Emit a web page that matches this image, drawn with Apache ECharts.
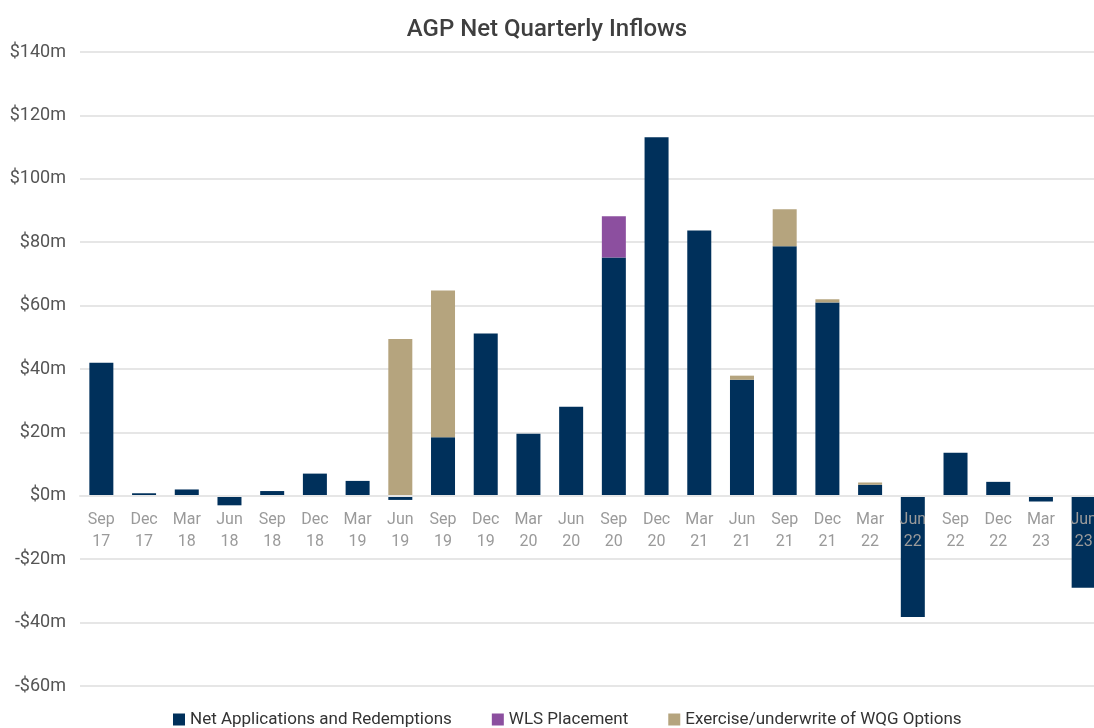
<!DOCTYPE html>
<html>
<head>
<meta charset="utf-8">
<script src="https://cdn.jsdelivr.net/npm/echarts@6/dist/echarts.min.js"></script>
<style>
    html, body { margin: 0; padding: 0; background: #fff; }
    #chart { width: 1094px; height: 728px; }
</style>
</head>
<body>
<div id="chart"></div>
<script>
// quarters, shown as two-line labels
const quarters = ['Sep\n17', 'Dec\n17', 'Mar\n18', 'Jun\n18', 'Sep\n18', 'Dec\n18', 'Mar\n19', 'Jun\n19',
    'Sep\n19', 'Dec\n19', 'Mar\n20', 'Jun\n20', 'Sep\n20', 'Dec\n20', 'Mar\n21', 'Jun\n21',
    'Sep\n21', 'Dec\n21', 'Mar\n22', 'Jun\n22', 'Sep\n22', 'Dec\n22', 'Mar\n23', 'Jun\n23'];

// $m, null = no contribution that quarter
const netAppsRedemptions = [42, 0.8, 2, -3, 1.5, 7, 4.7, -1.3,
    18.5, 51.2, 19.6, 28.1, 75.2, 113.1, 83.7, 36.6,
    78.7, 61, 3.5, -38.2, 13.6, 4.4, -1.8, -29];
const wlsPlacement = [null, null, null, null, null, null, null, null,
    null, null, null, null, 13, null, null, null,
    null, null, null, null, null, null, null, null];
const wqgOptions = [null, null, null, null, null, null, null, 49.5,
    46.3, null, null, null, null, null, null, 1.3,
    11.7, 1, 0.7, null, null, null, null, null];

const yMin = -60, yMax = 140;
const gridTop = 52, gridBottom = 42, chartHeight = 728;

const chart = echarts.init(document.getElementById('chart'));

function money(v) {
    return v < 0 ? '-$' + (-v) + 'm' : '$' + v + 'm';
}

function barSeries(name, data, color) {
    return {
        name: name,
        type: 'bar',
        stack: 'total',
        barWidth: 24,
        data: data,
        itemStyle: {color: color}
    };
}

// onZero doesn't take here, so lift the category axis up to the zero line by hand
let plotH = chartHeight - gridTop - gridBottom;
let zeroLift = plotH * (0 - yMin) / (yMax - yMin);

chart.setOption({
    backgroundColor: '#fff',
    textStyle: {fontFamily: 'Roboto'},
    title: {
        text: 'AGP Net Quarterly Inflows',
        left: 'center',
        top: 13,
        textStyle: {fontSize: 24, fontWeight: 500, color: '#3f3f3f', fontFamily: 'Roboto'}
    },
    legend: {
        bottom: -5,
        left: 168,
        itemWidth: 12,
        itemHeight: 12,
        itemGap: 40,
        icon: 'rect',
        textStyle: {fontSize: 17, color: '#333'},
        data: ['Net Applications and Redemptions', 'WLS Placement', 'Exercise/underwrite of WQG Options']
    },
    // plot runs past the right edge, like the cropped original
    grid: {left: 80, width: 1025, top: gridTop, bottom: gridBottom, outerBoundsMode: 'none'},
    xAxis: {
        type: 'category',
        data: quarters,
        z: 5,
        position: 'bottom',
        offset: -zeroLift,
        axisLine: {show: true, onZero: false, lineStyle: {color: '#e6e6e6', width: 2}},
        axisTick: {show: false},
        axisLabel: {
            interval: 0,
            margin: 13,
            fontSize: 16,
            lineHeight: 22,
            color: '#9a9a9a'
        }
    },
    yAxis: {
        type: 'value',
        min: yMin,
        max: yMax,
        interval: 20,
        axisLine: {show: false},
        axisTick: {show: false},
        axisLabel: {
            fontSize: 18,
            color: '#555',
            margin: 14,
            formatter: money
        },
        splitLine: {lineStyle: {color: '#e6e6e6', width: 2}}
    },
    series: [
        barSeries('Net Applications and Redemptions', netAppsRedemptions, '#00305b'),
        barSeries('WLS Placement', wlsPlacement, '#8c4f9f'),
        barSeries('Exercise/underwrite of WQG Options', wqgOptions, '#b5a47e')
    ]
});
</script>
</body>
</html>
